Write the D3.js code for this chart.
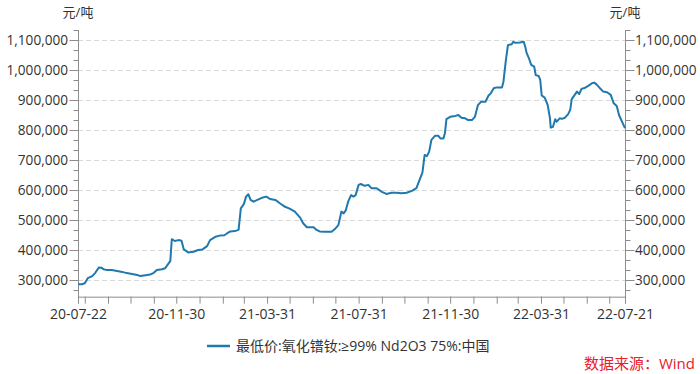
<!DOCTYPE html>
<html>
<head>
<meta charset="utf-8">
<script src="https://cdn.jsdelivr.net/npm/d3@7"></script>
<style>
  html, body { margin: 0; padding: 0; background: #fff; }
  svg { display: block; }
  text { font-family: "Open Sans", "Noto Sans CJK SC", sans-serif; }
</style>
</head>
<body>
<svg id="chart" width="700" height="374"></svg>
<script>
const dates = [
"2020-07-22","2020-07-27","2020-07-31","2020-08-04","2020-08-10","2020-08-14","2020-08-19","2020-08-22","2020-08-25","2020-08-30",
"2020-09-05","2020-09-12","2020-09-19","2020-09-25","2020-10-02","2020-10-09","2020-10-13","2020-10-20","2020-10-26","2020-10-31",
"2020-11-04","2020-11-11","2020-11-15","2020-11-20","2020-11-22","2020-11-24","2020-11-28","2020-12-03","2020-12-07","2020-12-10",
"2020-12-16","2020-12-23","2020-12-29","2021-01-04","2021-01-10","2021-01-14","2021-01-21","2021-01-27","2021-02-02","2021-02-06",
"2021-02-10","2021-02-16","2021-02-21","2021-02-24","2021-02-28","2021-03-03","2021-03-06","2021-03-09","2021-03-13","2021-03-18",
"2021-03-24","2021-03-30","2021-04-04","2021-04-11","2021-04-17","2021-04-24","2021-04-30","2021-05-07","2021-05-14","2021-05-18",
"2021-05-23","2021-05-27","2021-06-01","2021-06-05","2021-06-09","2021-06-16","2021-06-25","2021-06-29","2021-07-04","2021-07-08",
"2021-07-11","2021-07-14","2021-07-17","2021-07-21","2021-07-24","2021-07-27","2021-07-31","2021-08-03","2021-08-08","2021-08-13",
"2021-08-17","2021-08-24","2021-08-31","2021-09-06","2021-09-13","2021-09-20","2021-09-26","2021-10-03","2021-10-10","2021-10-16",
"2021-10-21","2021-10-24","2021-10-27","2021-10-30","2021-11-02","2021-11-05","2021-11-10","2021-11-14","2021-11-17","2021-11-21",
"2021-11-23","2021-11-25","2021-11-30","2021-12-07","2021-12-11","2021-12-15","2021-12-20","2021-12-24","2021-12-29","2022-01-02",
"2022-01-06","2022-01-10","2022-01-16","2022-01-20","2022-01-23","2022-01-27","2022-01-31","2022-02-07","2022-02-09","2022-02-12",
"2022-02-15","2022-02-20","2022-02-22","2022-02-24","2022-03-03","2022-03-08","2022-03-10","2022-03-12","2022-03-15","2022-03-18",
"2022-03-22","2022-03-24","2022-03-28","2022-03-30","2022-04-01","2022-04-05","2022-04-09","2022-04-12","2022-04-13","2022-04-16",
"2022-04-19","2022-04-21","2022-04-25","2022-04-28","2022-05-02","2022-05-06","2022-05-09","2022-05-11","2022-05-15","2022-05-18",
"2022-05-21","2022-05-24","2022-05-29","2022-06-02","2022-06-07","2022-06-10","2022-06-13","2022-06-17","2022-06-22","2022-06-27",
"2022-07-02","2022-07-06","2022-07-10","2022-07-13","2022-07-17","2022-07-21"
];
const prices = [
286000,286000,289000,306000,313000,324000,342000,341000,336000,333000,
333000,330000,327000,323000,320000,317000,313000,316000,318000,324000,
333000,336000,339000,356000,363000,436000,430000,433000,431000,402000,
392000,394000,400000,402000,413000,433000,444000,448000,449000,456000,
462000,463000,467000,539000,553000,578000,586000,567000,561000,567000,
574000,578000,570000,567000,556000,544000,538000,528000,508000,489000,
476000,476000,476000,467000,462000,461000,461000,469000,483000,528000,
522000,533000,561000,583000,578000,583000,617000,620000,614000,617000,
606000,606000,594000,587000,591000,591000,589000,591000,597000,606000,
639000,658000,717000,713000,728000,767000,781000,781000,772000,772000,
789000,836000,844000,847000,850000,841000,839000,833000,833000,844000,
883000,894000,894000,914000,922000,939000,942000,942000,961000,1028000,
1083000,1086000,1094000,1091000,1092000,1094000,1078000,1056000,1039000,1017000,
1011000,983000,980000,967000,915000,908000,883000,839000,808000,811000,
836000,828000,839000,837000,841000,852000,867000,903000,917000,928000,
920000,937000,941000,947000,956000,958000,952000,941000,928000,926000,
917000,889000,880000,850000,828000,806000
];
const xTickLabels = ["20-07-22","20-11-30","21-03-31","21-07-31","21-11-30","22-03-31","22-07-21"];
const yMajorTicks = [300000,400000,500000,600000,700000,800000,900000,1000000,1100000];
const unitLabel = "元/吨";
const seriesName = "最低价:氧化镨钕:≥99% Nd2O3 75%:中国";
const sourceText = "数据来源：Wind";

(function () {
const parse = d3.timeParse("%Y-%m-%d");
const data = dates.map((d, i) => ({ date: parse(d), value: prices[i] }));

const svg = d3.select("#chart");
const mLeft = 78, mRight = 625, mTop = 30, mBottom = 296.67;
const axisColor = "#8c8c8c";
const textColor = "#333";
const lineColor = "#1f78ae";

const x = d3.scaleTime()
  .domain([parse(dates[0]), parse(dates[dates.length - 1])])
  .range([mLeft, mRight]);
const y = d3.scaleLinear()
  .domain([244444.4, 1133333.3])
  .range([mBottom, mTop]);

// gridlines
svg.append("g").selectAll("line").data(yMajorTicks).join("line")
  .attr("x1", mLeft).attr("x2", mRight)
  .attr("y1", d => Math.round(y(d)) + 0.5).attr("y2", d => Math.round(y(d)) + 0.5)
  .attr("stroke", "#d9d9d9").attr("stroke-dasharray", "5,3").attr("stroke-width", 1);

const minorTicks = d3.range(-1, 26).map(k => 300000 + k * 100000 / 3);
const fmt = d3.format(",");

function yAxis(side) {
  const g = svg.append("g");
  const ax = side === "left" ? mLeft : mRight;
  const dir = side === "left" ? -1 : 1;
  g.append("line").attr("x1", ax + 0.5).attr("x2", ax + 0.5)
    .attr("y1", mTop).attr("y2", mBottom + 7).attr("stroke", axisColor);
  g.selectAll("line.minor").data(minorTicks).join("line").attr("class", "minor")
    .attr("x1", ax + 0.5).attr("x2", ax + 0.5 + dir * 5)
    .attr("y1", d => Math.round(y(d)) + 0.5).attr("y2", d => Math.round(y(d)) + 0.5)
    .attr("stroke", axisColor);
  g.selectAll("line.major").data(yMajorTicks).join("line").attr("class", "major")
    .attr("x1", ax + 0.5).attr("x2", ax + 0.5 + dir * 9)
    .attr("y1", d => Math.round(y(d)) + 0.5).attr("y2", d => Math.round(y(d)) + 0.5)
    .attr("stroke", axisColor);
  g.selectAll("text").data(yMajorTicks).join("text")
    .attr("x", ax + dir * 10)
    .attr("y", d => y(d))
    .attr("dy", "0.35em")
    .attr("text-anchor", side === "left" ? "end" : "start")
    .attr("font-size", 13.6).attr("fill", textColor)
    .text(d => fmt(d));
  g.append("text").attr("x", ax).attr("y", 17)
    .attr("text-anchor", "middle").attr("font-size", 13).attr("fill", textColor)
    .text(unitLabel);
}
yAxis("left");
yAxis("right");

// x axis
const monthEnds = d3.timeMonth.range(new Date(2020, 7, 1), new Date(2022, 7, 1))
  .map(d => d3.timeDay.offset(d, -1));
const xTicks = [x.domain()[0], ...monthEnds, x.domain()[1]];
const tf = d3.timeFormat("%y-%m-%d");
const xAxis = d3.axisBottom(x)
  .tickValues(xTicks)
  .tickSize(7)
  .tickSizeOuter(0)
  .tickPadding(5)
  .tickFormat(d => xTickLabels.includes(tf(d)) ? tf(d) : "");
const gx = svg.append("g")
  .attr("transform", `translate(0,${mBottom})`)
  .call(xAxis);
gx.select(".domain").attr("stroke", axisColor);
gx.selectAll(".tick line").attr("stroke", axisColor);
gx.selectAll(".tick text").attr("fill", textColor).attr("font-size", 14)
  .attr("font-family", "'Open Sans', sans-serif");

// line
const line = d3.line().x(d => x(d.date)).y(d => y(d.value));
svg.append("path").datum(data)
  .attr("d", line)
  .attr("fill", "none")
  .attr("stroke", lineColor)
  .attr("stroke-width", 2)
  .attr("stroke-linejoin", "round");

// legend
svg.append("line").attr("x1", 207).attr("x2", 230).attr("y1", 346).attr("y2", 346)
  .attr("stroke", lineColor).attr("stroke-width", 2.5);
svg.append("text").attr("x", 236).attr("y", 346).attr("dy", "0.35em")
  .attr("font-size", 14).attr("fill", textColor).text(seriesName);

// source
svg.append("text").attr("x", 695).attr("y", 364).attr("dy", "0.35em")
  .attr("text-anchor", "end").attr("font-size", 15).attr("fill", "#e8202a")
  .text(sourceText);
})();
</script>
</body>
</html>
